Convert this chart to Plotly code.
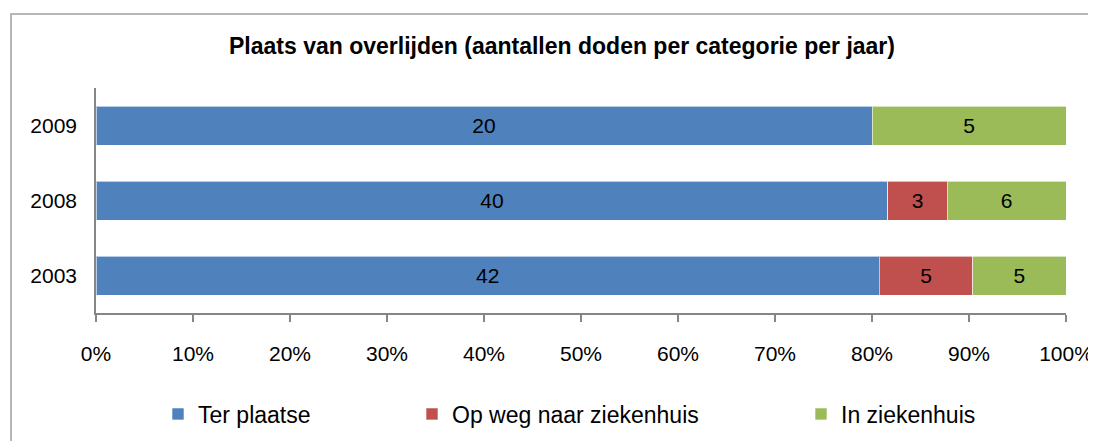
import plotly.graph_objects as go

years = ["2003", "2008", "2009"]
series_names = ["Ter plaatse", "Op weg naar ziekenhuis", "In ziekenhuis"]
ter_plaatse = [42, 40, 20]
op_weg = [5, 3, 0]
in_ziekenhuis = [5, 6, 5]
colors = ["#4F81BD", "#C0504D", "#9BBB59"]
x_ticks = [0, 10, 20, 30, 40, 50, 60, 70, 80, 90, 100]

FONT = "Liberation Sans, Arial, sans-serif"

OFF = 8  # page body margin
W, H = 1096, 441
# plot area in page pixels
PL, PR, PT, PB = 96, 1066, 88, 313
L, T = PL - OFF, PT - OFF
R, B = W - (PR - OFF), H - (PB - OFF)
pw, ph = W - L - R, H - T - B

def px(x):  # page x -> paper
    return (x - OFF - L) / pw

def py(y):  # page y -> paper
    return (H - B - (y - OFF)) / ph

fig = go.Figure()
legends = ["legend", "legend2", "legend3"]
for name, vals, col, lg in zip(series_names, [ter_plaatse, op_weg, in_ziekenhuis], colors, legends):
    fig.add_trace(go.Bar(
        y=years, x=vals, name=name, orientation="h",
        marker=dict(color=col, line=dict(color="rgba(255,255,255,0.6)", width=1)),
        text=[str(v) if v else "" for v in vals],
        textposition="inside", insidetextanchor="middle",
        textfont=dict(color="black", size=21, family=FONT),
        legend=lg, hoverinfo="skip", showlegend=True,
    ))

# legend square left edges (page px) minus symbol offset
legend_x = [173 - 15, 427 - 15, 816 - 15]
leg_common = dict(orientation="h", yanchor="middle", xanchor="left",
                  font=dict(size=23, family=FONT, color="black"),
                  bgcolor="rgba(0,0,0,0)")
fig.update_layout(
    showlegend=True,
    legend=dict(x=px(legend_x[0]), y=py(414), **leg_common),
    legend2=dict(x=px(legend_x[1]), y=py(414), **leg_common),
    legend3=dict(x=px(legend_x[2]), y=py(414), **leg_common),
)

fig.update_layout(
    width=W, height=H,
    margin=dict(l=L, r=R, t=T, b=B, autoexpand=False),
    barmode="stack", barnorm="percent", bargap=0.48,
    paper_bgcolor="white", plot_bgcolor="white",
    font=dict(family=FONT, color="black"),
    title=dict(text="<b>Plaats van overlijden (aantallen doden per categorie per jaar)</b>",
               x=(562 - OFF) / W, xanchor="center", yref="container",
               y=1 - (46 - OFF) / H, yanchor="middle",
               font=dict(size=23, family=FONT, color="black")),
    xaxis=dict(range=[0, 100], tickvals=x_ticks, ticktext=[f"{v}%" for v in x_ticks],
               showgrid=False, zeroline=False, showline=True, linecolor="#868686", linewidth=1.5,
               ticks="outside", ticklen=7, tickcolor="#868686", tickwidth=1.5,
               tickfont=dict(size=21, family=FONT, color="black"), ticklabelstandoff=14,
               fixedrange=True),
    yaxis=dict(categoryorder="array", categoryarray=years, showgrid=False, zeroline=False,
               showline=True, linecolor="#868686", linewidth=1.5, ticks="",
               tickfont=dict(size=21, family=FONT, color="black"), ticklabelstandoff=13,
               fixedrange=True),
    shapes=[dict(type="rect", xref="paper", yref="paper",
                 x0=px(11), x1=px(1120), y0=py(470), y1=py(14),
                 line=dict(color="#a0a0a0", width=1.5), fillcolor="rgba(0,0,0,0)", layer="below")],
)

fig.write_html("out.html")
